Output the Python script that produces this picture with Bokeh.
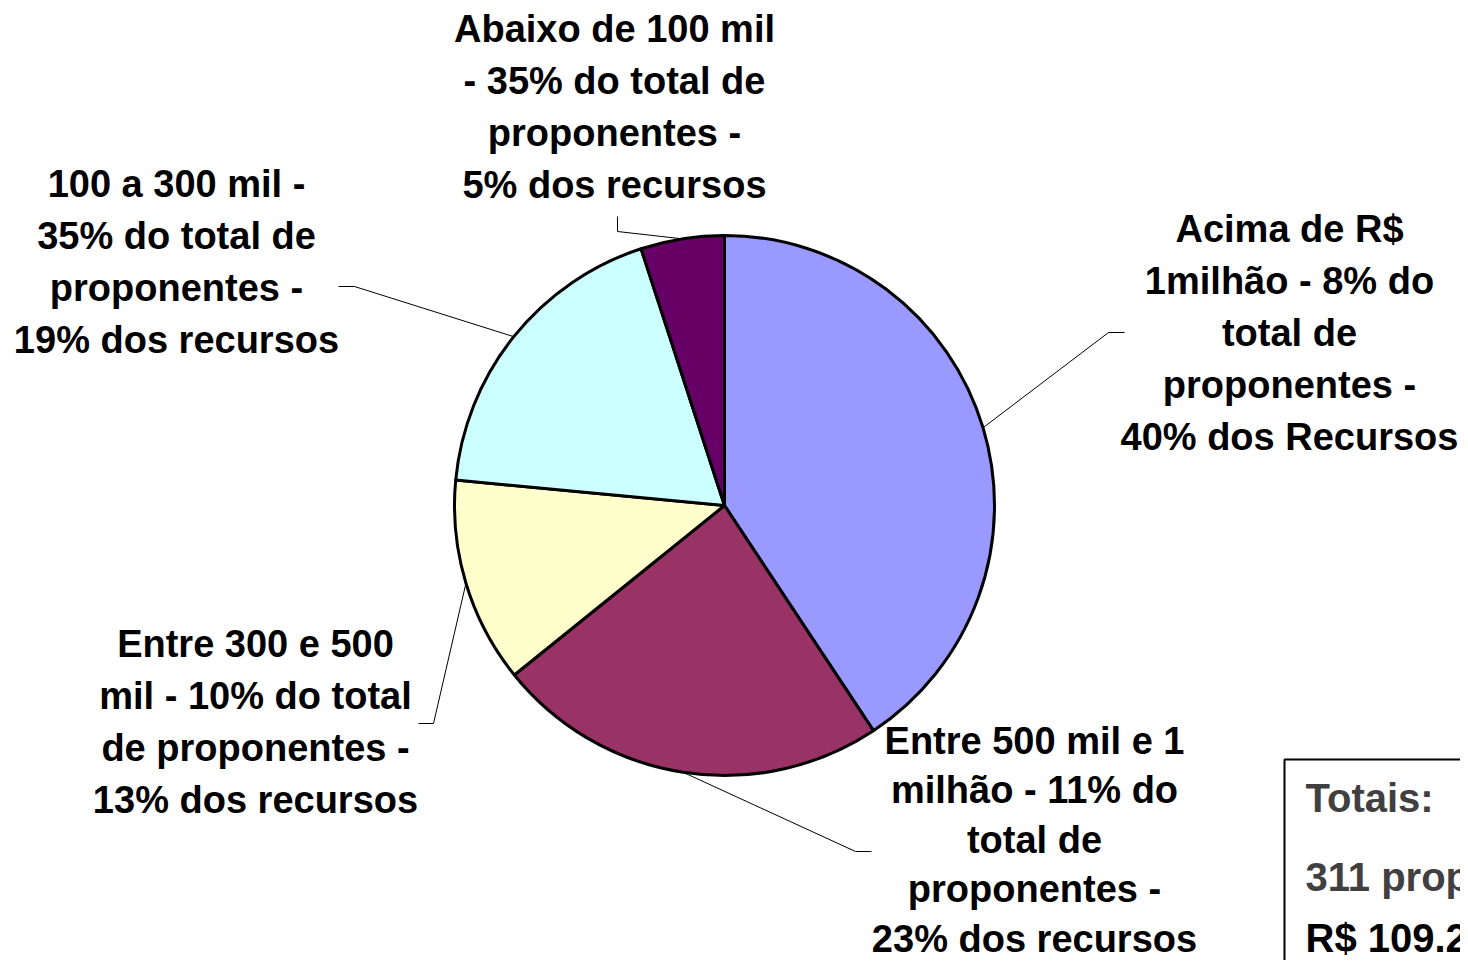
import numpy as np
from bokeh.plotting import figure
from bokeh.models import Range1d, ColumnDataSource
from bokeh.core.properties import value
from bokeh.embed import file_html
from bokeh.resources import INLINE

# ---------------- data ----------------
categories = ["Acima de R$ 1milhão", "Entre 500 mil e 1 milhão", "Entre 300 e 500 mil",
              "100 a 300 mil", "Abaixo de 100 mil"]
recursos_pct = [40.7, 23.5, 12.3, 18.5, 5.0]
slice_colors = ["#9999FF", "#993366", "#FFFFCC", "#CCFFFF", "#660066"]
label_lines = [
    ["Acima de R$", "1milhão - 8% do", "total de", "proponentes -", "40% dos Recursos"],
    ["Entre 500 mil e 1", "milhão - 11% do", "total de", "proponentes -", "23% dos recursos"],
    ["Entre 300 e 500", "mil - 10% do total", "de proponentes -", "13% dos recursos"],
    ["100 a 300 mil -", "35% do total de", "proponentes -", "19% dos recursos"],
    ["Abaixo de 100 mil", "- 35% do total de", "proponentes -", "5% dos recursos"],
]
totais_lines = ["Totais:", "311 proponentes", "R$ 109.2 milhões"]

# ---------------- layout ----------------
W, H = 1460, 960
CX, CY, R = 724, 505, 270          # picture pixel coords of pie centre, radius
FONT = value("Liberation Sans")
label_pos = [(1289, 228), (1034, 740), (255, 643), (176, 183), (614, 28)]
label_sp = [52, 49.5, 52, 52, 52]
leader_start = [[(1124, 332), (1108, 332)],
                [(871, 851), (855, 851)],
                [(418, 723), (433, 723)],
                [(338, 286), (354, 286)],
                [(617, 216), (617, 231)]]

p = figure(width=W, height=H, output_backend="svg", toolbar_location=None,
           x_range=Range1d(0, W), y_range=Range1d(-H, 0),
           min_border=0)
p.axis.visible = False
p.grid.visible = False
p.outline_line_color = None
p.background_fill_color = "white"
p.border_fill_color = "white"

vals = np.array(recursos_pct, dtype=float)
frac = vals / vals.sum()
cum = np.concatenate([[0], np.cumsum(frac)])
start = np.pi / 2 - cum[:-1] * 2 * np.pi
end = np.pi / 2 - cum[1:] * 2 * np.pi
mid = (start + end) / 2

src = ColumnDataSource(dict(start=start, end=end, color=slice_colors, cat=categories))
p.wedge(x=CX, y=-CY, radius=R, start_angle="start", end_angle="end",
        direction="clock", fill_color="color", line_color="black", line_width=3,
        source=src)

# leader lines
xs, ys = [], []
for i in range(len(vals)):
    ax = CX + R * np.cos(mid[i])
    ay = CY - R * np.sin(mid[i])
    pts = leader_start[i] + [(ax, ay)]
    xs.append([q[0] for q in pts])
    ys.append([-q[1] for q in pts])
p.multi_line(xs=xs, ys=ys, line_color="black", line_width=1)

# labels
tx, ty, tt = [], [], []
for (lx, ly), sp, lines in zip(label_pos, label_sp, label_lines):
    for j, s in enumerate(lines):
        tx.append(lx)
        ty.append(-(ly + j * sp))
        tt.append(s)
p.text(x=tx, y=ty, text=tt, text_font=FONT, text_font_style="bold",
       text_font_size="38px", text_align="center", text_baseline="middle",
       text_color="black")

# totals box
p.quad(left=[1284], right=[1700], top=[-759], bottom=[-1200],
       fill_color="white", line_color="black", line_width=2)
p.text(x=[1305] * 3, y=[-797, -876, -937], text=totais_lines, text_font=FONT,
       text_font_style="bold", text_font_size="40px", text_align="left",
       text_baseline="middle", text_color=["#404040", "#404040", "#000000"])

open("out.html", "w").write(file_html(p, INLINE))
